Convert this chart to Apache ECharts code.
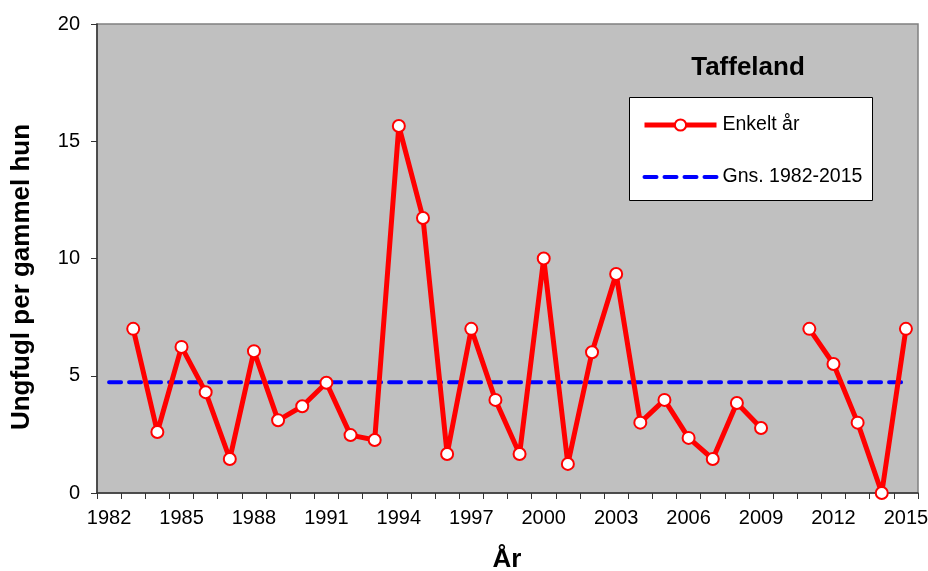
<!DOCTYPE html>
<html>
<head>
<meta charset="utf-8">
<script src="https://cdn.jsdelivr.net/npm/echarts@6/dist/echarts.min.js"></script>
<style>html,body{margin:0;padding:0;background:#fff;}#c{width:928px;height:571px;}</style>
</head>
<body>
<div id="c"></div>
<script>
var years = ['1982','1983','1984','1985','1986','1987','1988','1989','1990','1991','1992','1993','1994','1995','1996','1997','1998','1999','2000','2001','2002','2003','2004','2005','2006','2007','2008','2009','2010','2011','2012','2013','2014','2015'];
var enkeltAar = [null,7.0,2.6,6.23,4.3,1.45,6.05,3.1,3.7,4.7,2.47,2.26,15.65,11.73,1.66,7.0,3.97,1.66,10.0,1.24,6.0,9.34,3.0,3.97,2.35,1.45,3.84,2.77,null,7.0,5.5,3.0,0,7.0];
var avgLine = [['1982',4.72],['2015',4.72]];
var yTicks = {min:0, max:20, interval:5};

var chart = echarts.init(document.getElementById('c'));
var font = 'Liberation Sans, Arial, sans-serif';
chart.setOption({
  animation:false,
  textStyle:{fontFamily:font},
  grid:{left:97, top:24, width:821, height:469, containLabel:false, outerBoundsMode:'none', show:true, backgroundColor:'#c0c0c0', borderColor:'#808080', borderWidth:1.5},
  xAxis:{
    type:'category', data:years, boundaryGap:true,
    axisLine:{show:true, lineStyle:{color:'#333', width:1.5}},
    axisTick:{show:true, interval:0, length:6, lineStyle:{color:'#333', width:1}},
    axisLabel:{interval:2, color:'#000', fontSize:20, margin:15, fontFamily:font},
    splitLine:{show:false}
  },
  yAxis:{
    type:'value', min:yTicks.min, max:yTicks.max, interval:yTicks.interval,
    axisLine:{show:true, lineStyle:{color:'#333', width:1.5}},
    axisTick:{show:true, length:6, lineStyle:{color:'#333', width:1}},
    axisLabel:{color:'#000', fontSize:20, margin:17, fontFamily:font},
    splitLine:{show:false}
  },
  legend:{
    orient:'vertical', left:642, top:115, padding:0, itemWidth:72, itemHeight:14, itemGap:32, z:20,
    textStyle:{fontSize:19.5, lineHeight:20, color:'#000', fontFamily:font, padding:[0,0,0,1]},
    data:[
      {name:'Enkelt år', lineStyle:{width:5, color:'#ff0000'}, itemStyle:{color:'#fff', borderColor:'#ff0000', borderWidth:2}},
      {name:'Gns. 1982-2015', lineStyle:{width:4, color:'#0000ff', type:[12,8], cap:'round'}, itemStyle:{opacity:0}}
    ]
  },
  graphic:[
    {type:'rect', z:15, shape:{x:629.5, y:97.5, width:243, height:103}, style:{fill:'#fff', stroke:'#000', lineWidth:1}},
    {type:'text', z:15, style:{text:'Taffeland', x:748, y:68, align:'center', verticalAlign:'middle', font:'bold 26px '+font, fill:'#000'}},
    {type:'text', z:15, x:22, y:277, rotation:Math.PI/2, style:{text:'Ungfugl per gammel hun', x:0, y:0, align:'center', verticalAlign:'middle', font:'bold 26px '+font, fill:'#000'}},
    {type:'text', z:15, style:{text:'År', x:507, y:560, align:'center', verticalAlign:'middle', font:'bold 26px '+font, fill:'#000'}}
  ],
  series:[
    {name:'Enkelt år', type:'line', data:enkeltAar, connectNulls:false, symbol:'circle', symbolSize:12,
     itemStyle:{color:'#fff', borderColor:'#ff0000', borderWidth:2},
     lineStyle:{color:'#ff0000', width:5}, z:3},
    {name:'Gns. 1982-2015', type:'line', data:avgLine, symbol:'none',
     itemStyle:{color:'#0000ff'},
     lineStyle:{color:'#0000ff', width:4, type:[12,8], cap:'round'}, z:2}
  ]
});
</script>
</body>
</html>
